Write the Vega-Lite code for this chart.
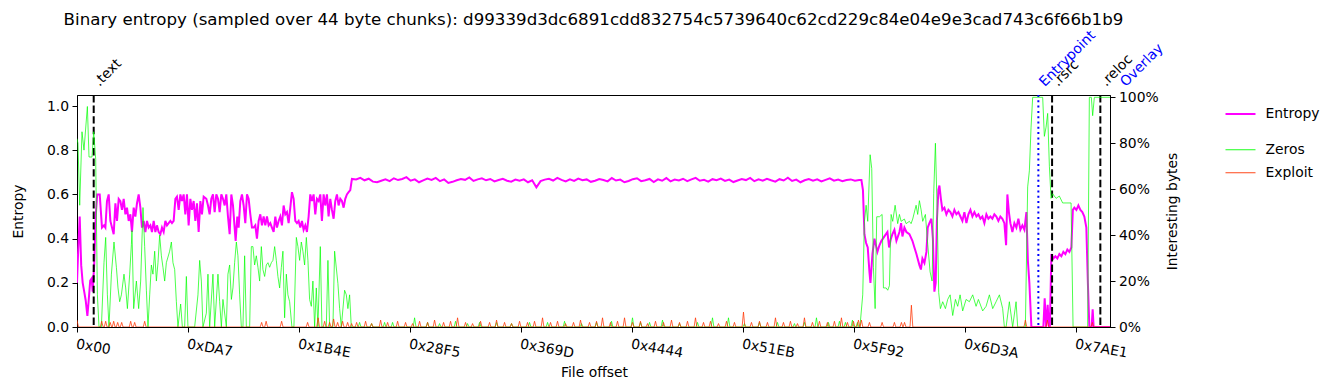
{
"$schema": "https://vega.github.io/schema/vega-lite/v6.json",
"width": 1033, "height": 232,
"autosize": {"type": "none"},
"padding": {"left": 77, "top": 95, "right": 225, "bottom": 63},
"background": "white",
"title": {"text": "Binary entropy (sampled over 44 byte chunks): d99339d3dc6891cdd832754c5739640c62cd229c84e04e9e3cad743c6f66b1b9", "frame": "group", "anchor": "middle", "fontSize": 16.67, "fontWeight": "normal", "font": "DejaVu Sans", "color": "black", "offset": -13, "baseline": "alphabetic"},
"config": {
  "font": "DejaVu Sans",
  "view": {"stroke": "black", "strokeWidth": 1},
  "axis": {"labelFont": "DejaVu Sans", "labelFontSize": 13.9, "labelColor": "black", "titleFont": "DejaVu Sans", "titleFontSize": 13.9, "titleFontWeight": "normal", "titleColor": "black", "domainColor": "black", "tickColor": "black", "grid": false, "tickSize": 5, "domainWidth": 1, "tickWidth": 1},
  "legend": {"labelFont": "DejaVu Sans", "labelFontSize": 13.9, "labelColor": "black"}
},
"datasets": {
"marks": [{"x":526,"name":".text","kind":"section"},{"x":30274,"name":"Entrypoint","kind":"special"},{"x":30706,"name":".rsrc","kind":"section"},{"x":32226,"name":".reloc","kind":"section"},{"x":32818,"name":"Overlay","kind":"special"}],
"ent": [
{"x":0,"v":0.2},{"x":38,"v":0.35},{"x":85,"v":0.5},{"x":132,"v":0.28},{"x":179,"v":0.2},{"x":227,"v":0.16},{"x":274,"v":0.12},{"x":327,"v":0.05},{"x":368,"v":0.12},{"x":416,"v":0.21},{"x":463,"v":0.22},{"x":494,"v":0.16},{"x":541,"v":0.28},{"x":589,"v":0.5},{"x":636,"v":0.6},{"x":661,"v":0.6},{"x":715,"v":0.6},{"x":787,"v":0.45},{"x":850,"v":0.46},{"x":894,"v":0.45},{"x":944,"v":0.57},{"x":998,"v":0.6},{"x":1051,"v":0.48},{"x":1102,"v":0.45},{"x":1155,"v":0.42},{"x":1209,"v":0.56},{"x":1259,"v":0.48},{"x":1313,"v":0.58},{"x":1366,"v":0.57},{"x":1417,"v":0.53},{"x":1470,"v":0.58},{"x":1524,"v":0.51},{"x":1574,"v":0.54},{"x":1628,"v":0.48},{"x":1681,"v":0.51},{"x":1731,"v":0.43},{"x":1785,"v":0.54},{"x":1838,"v":0.5},{"x":1889,"v":0.56},{"x":1942,"v":0.6},{"x":1996,"v":0.54},{"x":2046,"v":0.45},{"x":2100,"v":0.48},{"x":2153,"v":0.43},{"x":2204,"v":0.48},{"x":2257,"v":0.45},{"x":2311,"v":0.46},{"x":2361,"v":0.43},{"x":2415,"v":0.48},{"x":2468,"v":0.43},{"x":2518,"v":0.46},{"x":2572,"v":0.43},{"x":2625,"v":0.42},{"x":2676,"v":0.45},{"x":2729,"v":0.43},{"x":2783,"v":0.48},{"x":2833,"v":0.46},{"x":2887,"v":0.47},{"x":2940,"v":0.48},{"x":2991,"v":0.47},{"x":3044,"v":0.48},{"x":3098,"v":0.58},{"x":3148,"v":0.59},{"x":3202,"v":0.53},{"x":3255,"v":0.6},{"x":3305,"v":0.57},{"x":3359,"v":0.6},{"x":3412,"v":0.51},{"x":3463,"v":0.6},{"x":3516,"v":0.46},{"x":3570,"v":0.58},{"x":3620,"v":0.53},{"x":3674,"v":0.57},{"x":3727,"v":0.48},{"x":3778,"v":0.56},{"x":3831,"v":0.43},{"x":3885,"v":0.57},{"x":3935,"v":0.51},{"x":3989,"v":0.59},
{"x":4073,"v":0.58},{"x":4125,"v":0.55},{"x":4177,"v":0.51},{"x":4230,"v":0.58},{"x":4282,"v":0.6},{"x":4335,"v":0.52},{"x":4387,"v":0.6},{"x":4440,"v":0.58},{"x":4492,"v":0.52},{"x":4545,"v":0.6},{"x":4597,"v":0.58},{"x":4650,"v":0.55},{"x":4702,"v":0.6},{"x":4754,"v":0.5},{"x":4807,"v":0.42},{"x":4860,"v":0.6},{"x":4912,"v":0.55},{"x":4964,"v":0.45},{"x":4996,"v":0.39},{"x":5048,"v":0.5},{"x":5090,"v":0.45},{"x":5143,"v":0.57},{"x":5195,"v":0.6},{"x":5248,"v":0.55},{"x":5300,"v":0.47},{"x":5353,"v":0.6},{"x":5405,"v":0.58},{"x":5458,"v":0.51},{"x":5510,"v":0.45},{"x":5562,"v":0.45},{"x":5615,"v":0.46},{"x":5667,"v":0.4},{"x":5720,"v":0.48},{"x":5772,"v":0.51},{"x":5825,"v":0.46},{"x":5877,"v":0.5},{"x":5930,"v":0.46},{"x":5982,"v":0.5},{"x":6035,"v":0.46},{"x":6087,"v":0.47},{"x":6139,"v":0.45},{"x":6192,"v":0.43},{"x":6245,"v":0.5},{"x":6297,"v":0.45},{"x":6350,"v":0.48},{"x":6402,"v":0.5},{"x":6454,"v":0.46},{"x":6507,"v":0.55},{"x":6559,"v":0.51},{"x":6612,"v":0.52},{"x":6664,"v":0.47},{"x":6717,"v":0.54},{"x":6769,"v":0.61},{"x":6822,"v":0.58},{"x":6874,"v":0.48},{"x":6927,"v":0.47},{"x":6979,"v":0.48},{"x":7032,"v":0.45},{"x":7084,"v":0.48},{"x":7136,"v":0.44},{"x":7189,"v":0.46},{"x":7241,"v":0.43},{"x":7294,"v":0.5},{"x":7346,"v":0.6},{"x":7399,"v":0.57},{"x":7451,"v":0.6},{"x":7504,"v":0.51},{"x":7556,"v":0.58},{"x":7609,"v":0.57},{"x":7661,"v":0.6},{"x":7713,"v":0.48},{"x":7766,"v":0.6},{"x":7818,"v":0.55},{"x":7871,"v":0.6},{"x":7923,"v":0.5},{"x":7976,"v":0.58},{"x":8028,"v":0.53},{"x":8081,"v":0.49},{"x":8133,"v":0.57},{"x":8186,"v":0.6},{"x":8238,"v":0.55},{"x":8291,"v":0.58},{"x":8343,"v":0.57},{"x":8396,"v":0.54},{"x":8448,"v":0.58},{"x":8500,"v":0.6},{"x":8553,"v":0.61},{"x":8606,"v":0.62},{"x":8658,"v":0.67},
{"x":8790,"v":0.668},{"x":8922,"v":0.675},{"x":9054,"v":0.664},{"x":9186,"v":0.671},{"x":9318,"v":0.658},{"x":9450,"v":0.655},{"x":9582,"v":0.662},{"x":9714,"v":0.668},{"x":9846,"v":0.66},{"x":9978,"v":0.673},
{"x":10110,"v":0.665},{"x":10242,"v":0.67},{"x":10374,"v":0.678},{"x":10506,"v":0.662},{"x":10638,"v":0.668},{"x":10770,"v":0.655},{"x":10902,"v":0.664},{"x":11034,"v":0.672},{"x":11166,"v":0.666},{"x":11298,"v":0.675},
{"x":11430,"v":0.66},{"x":11562,"v":0.668},{"x":11694,"v":0.652},{"x":11826,"v":0.657},{"x":11958,"v":0.664},{"x":12090,"v":0.67},{"x":12222,"v":0.666},{"x":12354,"v":0.677},{"x":12486,"v":0.661},{"x":12618,"v":0.668},
{"x":12750,"v":0.673},{"x":12882,"v":0.664},{"x":13014,"v":0.67},{"x":13146,"v":0.659},{"x":13278,"v":0.665},{"x":13410,"v":0.671},{"x":13542,"v":0.662},{"x":13674,"v":0.658},{"x":13806,"v":0.667},{"x":13938,"v":0.662},
{"x":14070,"v":0.668},{"x":14202,"v":0.655},{"x":14334,"v":0.664},{"x":14466,"v":0.632},{"x":14598,"v":0.66},{"x":14730,"v":0.667},{"x":14862,"v":0.671},{"x":14994,"v":0.663},{"x":15126,"v":0.675},{"x":15258,"v":0.666},
{"x":15390,"v":0.659},{"x":15522,"v":0.668},{"x":15654,"v":0.661},{"x":15786,"v":0.672},{"x":15918,"v":0.664},{"x":16050,"v":0.668},{"x":16182,"v":0.657},{"x":16314,"v":0.662},{"x":16446,"v":0.67},{"x":16578,"v":0.665},
{"x":16710,"v":0.659},{"x":16842,"v":0.674},{"x":16974,"v":0.663},{"x":17106,"v":0.667},{"x":17238,"v":0.655},{"x":17370,"v":0.661},{"x":17502,"v":0.669},{"x":17634,"v":0.673},{"x":17766,"v":0.66},{"x":17898,"v":0.664},
{"x":18030,"v":0.67},{"x":18162,"v":0.656},{"x":18294,"v":0.668},{"x":18426,"v":0.662},{"x":18558,"v":0.674},{"x":18690,"v":0.659},{"x":18822,"v":0.667},{"x":18954,"v":0.663},{"x":19086,"v":0.671},{"x":19218,"v":0.66},
{"x":19350,"v":0.668},{"x":19482,"v":0.675},{"x":19614,"v":0.662},{"x":19746,"v":0.666},{"x":19878,"v":0.658},{"x":20010,"v":0.669},{"x":20142,"v":0.664},{"x":20274,"v":0.672},{"x":20406,"v":0.661},{"x":20538,"v":0.667},
{"x":20670,"v":0.656},{"x":20802,"v":0.663},{"x":20934,"v":0.67},{"x":21066,"v":0.665},{"x":21198,"v":0.675},{"x":21330,"v":0.66},{"x":21462,"v":0.668},{"x":21594,"v":0.662},{"x":21726,"v":0.671},{"x":21858,"v":0.664},
{"x":21990,"v":0.658},{"x":22122,"v":0.669},{"x":22254,"v":0.663},{"x":22386,"v":0.676},{"x":22518,"v":0.661},{"x":22650,"v":0.667},{"x":22782,"v":0.655},{"x":22914,"v":0.664},{"x":23046,"v":0.67},{"x":23178,"v":0.662},
{"x":23310,"v":0.668},{"x":23442,"v":0.659},{"x":23574,"v":0.666},{"x":23706,"v":0.673},{"x":23838,"v":0.662},{"x":23970,"v":0.667},{"x":24102,"v":0.66},{"x":24234,"v":0.665},{"x":24366,"v":0.668},{"x":24498,"v":0.662},
{"x":24630,"v":0.665},
{"x":24702,"v":0.665},{"x":24750,"v":0.62},{"x":24797,"v":0.42},{"x":24850,"v":0.38},{"x":24901,"v":0.36},{"x":24954,"v":0.25},{"x":24986,"v":0.2},{"x":25049,"v":0.33},{"x":25112,"v":0.4},{"x":25206,"v":0.34},{"x":25269,"v":0.37},{"x":25332,"v":0.39},{"x":25426,"v":0.41},{"x":25521,"v":0.43},{"x":25574,"v":0.36},{"x":25631,"v":0.4},{"x":25678,"v":0.42},{"x":25741,"v":0.44},{"x":25804,"v":0.39},{"x":25899,"v":0.43},{"x":25952,"v":0.47},{"x":25993,"v":0.41},{"x":26056,"v":0.45},{"x":26119,"v":0.43},{"x":26213,"v":0.42},{"x":26308,"v":0.39},{"x":26371,"v":0.36},{"x":26434,"v":0.33},{"x":26528,"v":0.28},{"x":26575,"v":0.26},{"x":26623,"v":0.31},{"x":26686,"v":0.29},{"x":26749,"v":0.34},{"x":26790,"v":0.45},{"x":26843,"v":0.47},{"x":26906,"v":0.49},{"x":26953,"v":0.4},{"x":27000,"v":0.16},{"x":27041,"v":0.2},{"x":27079,"v":0.48},{"x":27126,"v":0.62},{"x":27158,"v":0.64},{"x":27205,"v":0.58},{"x":27252,"v":0.53},{"x":27315,"v":0.54},{"x":27378,"v":0.51},{"x":27441,"v":0.53},{"x":27504,"v":0.52},{"x":27567,"v":0.5},{"x":27630,"v":0.53},{"x":27693,"v":0.51},{"x":27756,"v":0.52},{"x":27819,"v":0.5},{"x":27882,"v":0.48},{"x":27945,"v":0.52},{"x":28008,"v":0.47},{"x":28071,"v":0.51},{"x":28134,"v":0.53},{"x":28197,"v":0.5},{"x":28260,"v":0.52},{"x":28323,"v":0.5},{"x":28386,"v":0.51},{"x":28449,"v":0.49},{"x":28511,"v":0.5},{"x":28574,"v":0.47},{"x":28637,"v":0.51},{"x":28700,"v":0.49},{"x":28763,"v":0.5},{"x":28826,"v":0.49},{"x":28889,"v":0.51},{"x":28952,"v":0.5},{"x":29015,"v":0.48},{"x":29078,"v":0.5},{"x":29141,"v":0.49},{"x":29204,"v":0.47},{"x":29258,"v":0.37},{"x":29298,"v":0.6},{"x":29346,"v":0.52},{"x":29393,"v":0.47},{"x":29456,"v":0.43},{"x":29519,"v":0.47},{"x":29582,"v":0.45},{"x":29645,"v":0.49},{"x":29708,"v":0.44},{"x":29771,"v":0.46},{"x":29834,"v":0.44},{"x":29897,"v":0.52},{"x":29944,"v":0.3},{"x":29991,"v":0.2},{"x":30054,"v":0},{"x":30432,"v":0},{"x":30473,"v":0.13},{"x":30517,"v":0},{"x":30567,"v":0.1},{"x":30605,"v":0},{"x":30636,"v":0},{"x":30684,"v":0.33},{"x":30747,"v":0.31},{"x":30810,"v":0.32},{"x":30872,"v":0.31},{"x":30935,"v":0.33},{"x":30998,"v":0.32},{"x":31061,"v":0.34},{"x":31124,"v":0.33},{"x":31187,"v":0.35},{"x":31250,"v":0.34},{"x":31313,"v":0.36},{"x":31360,"v":0.53},{"x":31408,"v":0.54},{"x":31471,"v":0.53},{"x":31534,"v":0.55},{"x":31597,"v":0.53},{"x":31659,"v":0.52},{"x":31722,"v":0.5},{"x":31785,"v":0.45},{"x":31833,"v":0.2},{"x":31880,"v":0},{"x":31952,"v":0},{"x":31984,"v":0.08},{"x":32015,"v":0},{"x":32530,"v":0}
],
"zer": [
{"x":0,"v":0.82},{"x":31,"v":0.8},{"x":85,"v":0.53},{"x":157,"v":0.85},{"x":220,"v":0.77},{"x":327,"v":0.96},{"x":378,"v":0.74},{"x":472,"v":0.74},{"x":526,"v":0.85},{"x":589,"v":0.73},{"x":642,"v":0.14},{"x":693,"v":0},{"x":768,"v":0},{"x":850,"v":0.28},{"x":903,"v":0.39},{"x":957,"v":0.14},{"x":1007,"v":0},{"x":1083,"v":0.23},{"x":1165,"v":0.37},{"x":1240,"v":0.26},{"x":1291,"v":0.17},{"x":1344,"v":0.11},{"x":1398,"v":0.14},{"x":1480,"v":0.23},{"x":1533,"v":0.17},{"x":1587,"v":0.08},{"x":1659,"v":0.23},{"x":1713,"v":0.36},{"x":1731,"v":0.42},{"x":1785,"v":0.08},{"x":1870,"v":0.2},{"x":1942,"v":0.08},{"x":2005,"v":0.2},{"x":2078,"v":0.52},{"x":2131,"v":0.35},{"x":2185,"v":0.16},{"x":2235,"v":0},{"x":2289,"v":0.14},{"x":2342,"v":0.27},{"x":2392,"v":0.23},{"x":2446,"v":0.33},{"x":2500,"v":0.2},{"x":2550,"v":0.28},{"x":2603,"v":0.4},{"x":2657,"v":0.31},{"x":2707,"v":0.26},{"x":2761,"v":0.2},{"x":2814,"v":0.28},{"x":2918,"v":0.33},{"x":2972,"v":0.37},{"x":3022,"v":0.28},{"x":3076,"v":0.25},{"x":3129,"v":0.11},{"x":3179,"v":0},{"x":3264,"v":0.1},{"x":3318,"v":0},{"x":3390,"v":0},{"x":3444,"v":0.22},{"x":3494,"v":0},{"x":3705,"v":0},{"x":3809,"v":0.14},{"x":3863,"v":0.29},{"x":3916,"v":0.2},{"x":3966,"v":0},{"x":4073,"v":0.06},{"x":4124,"v":0.23},{"x":4177,"v":0},{"x":4281,"v":0.23},{"x":4335,"v":0},{"x":4439,"v":0.23},{"x":4492,"v":0.11},{"x":4546,"v":0},{"x":4596,"v":0.12},{"x":4703,"v":0},{"x":4753,"v":0.23},{"x":4807,"v":0.27},{"x":4861,"v":0.12},{"x":4911,"v":0.17},{"x":4964,"v":0.28},{"x":5018,"v":0.37},{"x":5068,"v":0.31},{"x":5122,"v":0.14},{"x":5175,"v":0},{"x":5226,"v":0},{"x":5279,"v":0.31},{"x":5333,"v":0},{"x":5437,"v":0},{"x":5490,"v":0.35},{"x":5540,"v":0.35},{"x":5594,"v":0.27},{"x":5647,"v":0.31},{"x":5698,"v":0.26},{"x":5751,"v":0.2},{"x":5805,"v":0.35},{"x":5855,"v":0.25},{"x":5909,"v":0.22},{"x":5962,"v":0.27},{"x":6013,"v":0.28},{"x":6066,"v":0.26},{"x":6120,"v":0.28},{"x":6170,"v":0.29},{"x":6224,"v":0.35},{"x":6277,"v":0.29},{"x":6327,"v":0.22},{"x":6381,"v":0.17},{"x":6435,"v":0.26},{"x":6485,"v":0.33},{"x":6538,"v":0.04},{"x":6592,"v":0.23},{"x":6642,"v":0.14},{"x":6696,"v":0.11},{"x":6768,"v":0},{"x":6831,"v":0},{"x":6907,"v":0.39},{"x":6957,"v":0.35},{"x":7011,"v":0.29},{"x":7064,"v":0.37},{"x":7114,"v":0.33},{"x":7168,"v":0.27},{"x":7222,"v":0.39},{"x":7272,"v":0.29},{"x":7325,"v":0.12},{"x":7379,"v":0.09},{"x":7429,"v":0.2},{"x":7483,"v":0},{"x":7536,"v":0.17},{"x":7587,"v":0},{"x":7662,"v":0.35},{"x":7713,"v":0},{"x":7851,"v":0},{"x":7902,"v":0.29},{"x":7955,"v":0},{"x":8059,"v":0},{"x":8112,"v":0.33},{"x":8216,"v":0.19},{"x":8270,"v":0.08},{"x":8323,"v":0},{"x":8427,"v":0.16},{"x":8481,"v":0.14},{"x":8531,"v":0.08},{"x":8585,"v":0.14},{"x":8638,"v":0},
{"x":8855,"v":0},{"x":8899,"v":0.02},{"x":8943,"v":0},{"x":9233,"v":0},{"x":9277,"v":0.015},{"x":9321,"v":0},{"x":9642,"v":0},{"x":9686,"v":0.02},{"x":9730,"v":0},{"x":9894,"v":0},{"x":9938,"v":0.02},{"x":9982,"v":0},{"x":10587,"v":0},{"x":10631,"v":0.04},{"x":10675,"v":0},{"x":10996,"v":0},{"x":11040,"v":0.02},{"x":11084,"v":0},{"x":11374,"v":0},{"x":11418,"v":0.015},{"x":11462,"v":0},{"x":11877,"v":0},{"x":11921,"v":0.025},{"x":11965,"v":0},{"x":12255,"v":0},{"x":12299,"v":0.015},{"x":12343,"v":0},{"x":12633,"v":0},{"x":12677,"v":0.02},{"x":12721,"v":0},{"x":13168,"v":0},{"x":13212,"v":0.02},{"x":13256,"v":0},{"x":13640,"v":0},{"x":13684,"v":0.015},{"x":13728,"v":0},{"x":14207,"v":0},{"x":14251,"v":0.02},{"x":14295,"v":0},{"x":14774,"v":0},{"x":14818,"v":0.02},{"x":14862,"v":0},{"x":15309,"v":0},{"x":15353,"v":0.025},{"x":15397,"v":0},{"x":15844,"v":0},{"x":15888,"v":0.015},{"x":15932,"v":0},{"x":16316,"v":0},{"x":16360,"v":0.02},{"x":16404,"v":0},{"x":16788,"v":0},{"x":16832,"v":0.025},{"x":16876,"v":0},{"x":17449,"v":0},{"x":17493,"v":0.04},{"x":17537,"v":0},{"x":17701,"v":0},{"x":17745,"v":0.02},{"x":17789,"v":0},{"x":17985,"v":0},{"x":18029,"v":0.02},{"x":18073,"v":0},{"x":18394,"v":0},{"x":18438,"v":0.03},{"x":18482,"v":0},{"x":18929,"v":0},{"x":18973,"v":0.015},{"x":19017,"v":0},{"x":19496,"v":0},{"x":19540,"v":0.02},{"x":19584,"v":0},{"x":19968,"v":0},{"x":20012,"v":0.04},{"x":20056,"v":0},{"x":20472,"v":0},{"x":20516,"v":0.04},{"x":20560,"v":0},{"x":20975,"v":0},{"x":21019,"v":0.015},{"x":21063,"v":0},{"x":21447,"v":0},{"x":21491,"v":0.02},{"x":21535,"v":0},{"x":22014,"v":0},{"x":22058,"v":0.02},{"x":22102,"v":0},{"x":22549,"v":0},{"x":22593,"v":0.015},{"x":22637,"v":0},{"x":22864,"v":0},{"x":22908,"v":0.02},{"x":22952,"v":0},{"x":23242,"v":0},{"x":23286,"v":0.04},{"x":23330,"v":0},{"x":23620,"v":0},{"x":23664,"v":0.02},{"x":23708,"v":0},{"x":23966,"v":0},{"x":24010,"v":0.025},{"x":24054,"v":0},{"x":24155,"v":0},{"x":24199,"v":0.02},{"x":24243,"v":0},{"x":24375,"v":0},{"x":24419,"v":0.03},{"x":24463,"v":0},{"x":24532,"v":0},{"x":24576,"v":0.02},{"x":24620,"v":0},
{"x":24655,"v":0},{"x":24743,"v":0.14},{"x":24797,"v":0.46},{"x":24850,"v":0.53},{"x":24901,"v":0.46},{"x":24976,"v":0.75},{"x":25027,"v":0.69},{"x":25080,"v":0.26},{"x":25134,"v":0.08},{"x":25184,"v":0.48},{"x":25269,"v":0.48},{"x":25354,"v":0.49},{"x":25395,"v":0.17},{"x":25480,"v":0.17},{"x":25530,"v":0.16},{"x":25584,"v":0.18},{"x":25637,"v":0.49},{"x":25688,"v":0.46},{"x":25763,"v":0.53},{"x":25845,"v":0.45},{"x":25899,"v":0.49},{"x":25952,"v":0.46},{"x":26056,"v":0.47},{"x":26110,"v":0.45},{"x":26213,"v":0.46},{"x":26266,"v":0.45},{"x":26317,"v":0.47},{"x":26424,"v":0.53},{"x":26474,"v":0.49},{"x":26528,"v":0.55},{"x":26582,"v":0.51},{"x":26632,"v":0.46},{"x":26717,"v":0.49},{"x":26790,"v":0.36},{"x":26865,"v":0.24},{"x":26928,"v":0.2},{"x":26978,"v":0.58},{"x":27032,"v":0.8},{"x":27085,"v":0.52},{"x":27136,"v":0.15},{"x":27189,"v":0.08},{"x":27262,"v":0.11},{"x":27347,"v":0.08},{"x":27419,"v":0.12},{"x":27495,"v":0.14},{"x":27577,"v":0.05},{"x":27662,"v":0.12},{"x":27734,"v":0.09},{"x":27809,"v":0.14},{"x":27891,"v":0.07},{"x":27998,"v":0.12},{"x":28102,"v":0.11},{"x":28206,"v":0.14},{"x":28313,"v":0.09},{"x":28386,"v":0.12},{"x":28521,"v":0.07},{"x":28628,"v":0.09},{"x":28732,"v":0.14},{"x":28836,"v":0.08},{"x":28943,"v":0.11},{"x":29047,"v":0.14},{"x":29150,"v":0.08},{"x":29204,"v":0},{"x":29258,"v":0},{"x":29361,"v":0.11},{"x":29465,"v":0},{"x":29572,"v":0.11},{"x":29623,"v":0},{"x":29865,"v":0},{"x":29937,"v":0.61},{"x":29991,"v":0.68},{"x":30044,"v":0.87},{"x":30095,"v":1},{"x":30410,"v":1},{"x":30463,"v":0.83},{"x":30517,"v":0.87},{"x":30567,"v":0.93},{"x":30621,"v":0.7},{"x":30674,"v":0.56},{"x":30724,"v":0.58},{"x":30832,"v":0.56},{"x":30935,"v":0.57},{"x":31039,"v":0.54},{"x":31146,"v":0.54},{"x":31304,"v":0.54},{"x":31367,"v":0},{"x":31826,"v":0},{"x":31880,"v":1},{"x":31943,"v":1},{"x":31984,"v":0.92},{"x":32037,"v":1},{"x":32530,"v":1}
],
"exp": [
{"x":0,"v":0.03},{"x":44,"v":0},
{"x":734,"v":0},{"x":778,"v":0.025},{"x":822,"v":0},{"x":859,"v":0},{"x":903,"v":0.025},{"x":947,"v":0},{"x":1001,"v":0},{"x":1045,"v":0.02},{"x":1089,"v":0},{"x":1111,"v":0},{"x":1155,"v":0.025},{"x":1199,"v":0},{"x":1237,"v":0},{"x":1281,"v":0.02},{"x":1325,"v":0},{"x":1363,"v":0},{"x":1407,"v":0.02},{"x":1451,"v":0},{"x":1646,"v":0},{"x":1690,"v":0.025},{"x":1734,"v":0},{"x":1772,"v":0},{"x":1816,"v":0.02},{"x":1860,"v":0},{"x":2087,"v":0},{"x":2131,"v":0.025},{"x":2175,"v":0},
{"x":5770,"v":0},{"x":5814,"v":0.02},{"x":5858,"v":0},{"x":5912,"v":0},{"x":5956,"v":0.025},{"x":6000,"v":0},{"x":6400,"v":0},{"x":6444,"v":0.025},{"x":6488,"v":0},{"x":7218,"v":0},{"x":7262,"v":0.02},{"x":7306,"v":0},{"x":7549,"v":0},{"x":7593,"v":0.04},{"x":7637,"v":0},{"x":7754,"v":0},{"x":7798,"v":0.025},{"x":7842,"v":0},{"x":7911,"v":0},{"x":7955,"v":0.02},{"x":7999,"v":0},{"x":8037,"v":0},{"x":8081,"v":0.035},{"x":8125,"v":0},{"x":8163,"v":0},{"x":8207,"v":0.02},{"x":8251,"v":0},{"x":8320,"v":0},{"x":8364,"v":0.025},{"x":8408,"v":0},{"x":8478,"v":0},{"x":8522,"v":0.02},{"x":8566,"v":0},{"x":8604,"v":0},{"x":8648,"v":0.015},{"x":8692,"v":0},
{"x":8761,"v":0},{"x":8805,"v":0.02},{"x":8849,"v":0},{"x":9044,"v":0},{"x":9088,"v":0.025},{"x":9132,"v":0},{"x":9233,"v":0},{"x":9277,"v":0.015},{"x":9321,"v":0},{"x":9517,"v":0},{"x":9561,"v":0.03},{"x":9605,"v":0},{"x":9737,"v":0},{"x":9781,"v":0.02},{"x":9825,"v":0},{"x":10052,"v":0},{"x":10096,"v":0.025},{"x":10140,"v":0},{"x":10303,"v":0},{"x":10347,"v":0.02},{"x":10391,"v":0},{"x":10524,"v":0},{"x":10568,"v":0.015},{"x":10612,"v":0},{"x":10744,"v":0},{"x":10788,"v":0.025},{"x":10832,"v":0},{"x":10996,"v":0},{"x":11040,"v":0.02},{"x":11084,"v":0},{"x":11216,"v":0},{"x":11260,"v":0.03},{"x":11304,"v":0},{"x":11500,"v":0},{"x":11544,"v":0.02},{"x":11588,"v":0},{"x":11720,"v":0},{"x":11764,"v":0.025},{"x":11808,"v":0},{"x":11940,"v":0},{"x":11984,"v":0.04},{"x":12028,"v":0},{"x":12192,"v":0},{"x":12236,"v":0.02},{"x":12280,"v":0},{"x":12413,"v":0},{"x":12457,"v":0.015},{"x":12501,"v":0},{"x":12665,"v":0},{"x":12709,"v":0.025},{"x":12753,"v":0},{"x":12948,"v":0},{"x":12992,"v":0.02},{"x":13036,"v":0},{"x":13168,"v":0},{"x":13212,"v":0.03},{"x":13256,"v":0},{"x":13420,"v":0},{"x":13464,"v":0.02},{"x":13508,"v":0},{"x":13640,"v":0},{"x":13684,"v":0.015},{"x":13728,"v":0},{"x":13892,"v":0},{"x":13936,"v":0.025},{"x":13980,"v":0},{"x":14144,"v":0},{"x":14188,"v":0.02},{"x":14232,"v":0},{"x":14364,"v":0},{"x":14408,"v":0.025},{"x":14452,"v":0},{"x":14616,"v":0},{"x":14660,"v":0.04},{"x":14704,"v":0},{"x":14868,"v":0},{"x":14912,"v":0.02},{"x":14956,"v":0},{"x":15088,"v":0},{"x":15132,"v":0.025},{"x":15176,"v":0},{"x":15340,"v":0},{"x":15384,"v":0.015},{"x":15428,"v":0},{"x":15592,"v":0},{"x":15636,"v":0.02},{"x":15680,"v":0},{"x":15812,"v":0},{"x":15856,"v":0.03},{"x":15900,"v":0},{"x":16096,"v":0},{"x":16140,"v":0.02},{"x":16184,"v":0},{"x":16316,"v":0},{"x":16360,"v":0.025},{"x":16404,"v":0},{"x":16505,"v":0},{"x":16549,"v":0.04},{"x":16593,"v":0},{"x":16757,"v":0},{"x":16801,"v":0.02},{"x":16845,"v":0},{"x":16977,"v":0},{"x":17021,"v":0.025},{"x":17065,"v":0},{"x":17198,"v":0},{"x":17242,"v":0.04},{"x":17286,"v":0},{"x":17449,"v":0},{"x":17493,"v":0.02},{"x":17537,"v":0},{"x":17701,"v":0},{"x":17745,"v":0.025},{"x":17789,"v":0},{"x":17922,"v":0},{"x":17966,"v":0.015},{"x":18010,"v":0},{"x":18173,"v":0},{"x":18217,"v":0.025},{"x":18261,"v":0},{"x":18425,"v":0},{"x":18469,"v":0.02},{"x":18513,"v":0},{"x":18677,"v":0},{"x":18721,"v":0.03},{"x":18765,"v":0},{"x":18929,"v":0},{"x":18973,"v":0.02},{"x":19017,"v":0},{"x":19181,"v":0},{"x":19225,"v":0.025},{"x":19269,"v":0},{"x":19433,"v":0},{"x":19477,"v":0.04},{"x":19521,"v":0},{"x":19685,"v":0},{"x":19729,"v":0.02},{"x":19773,"v":0},{"x":19905,"v":0},{"x":19949,"v":0.025},{"x":19993,"v":0},{"x":20157,"v":0},{"x":20201,"v":0.015},{"x":20245,"v":0},{"x":20409,"v":0},{"x":20453,"v":0.025},{"x":20497,"v":0},{"x":20660,"v":0},{"x":20704,"v":0.02},{"x":20748,"v":0},{"x":20944,"v":0},{"x":20988,"v":0.065},{"x":21032,"v":0},{"x":21196,"v":0},{"x":21240,"v":0.02},{"x":21284,"v":0},{"x":21447,"v":0},{"x":21491,"v":0.025},{"x":21535,"v":0},{"x":21699,"v":0},{"x":21743,"v":0.02},{"x":21787,"v":0},{"x":21951,"v":0},{"x":21995,"v":0.04},{"x":22039,"v":0},{"x":22203,"v":0},{"x":22247,"v":0.02},{"x":22291,"v":0},{"x":22423,"v":0},{"x":22467,"v":0.025},{"x":22511,"v":0},{"x":22644,"v":0},{"x":22688,"v":0.015},{"x":22732,"v":0},{"x":22864,"v":0},{"x":22908,"v":0.04},{"x":22952,"v":0},{"x":23116,"v":0},{"x":23160,"v":0.02},{"x":23204,"v":0},{"x":23336,"v":0},{"x":23380,"v":0.025},{"x":23424,"v":0},{"x":23588,"v":0},{"x":23632,"v":0.02},{"x":23676,"v":0},{"x":23808,"v":0},{"x":23852,"v":0.025},{"x":23896,"v":0},{"x":24029,"v":0},{"x":24073,"v":0.04},{"x":24117,"v":0},{"x":24218,"v":0},{"x":24262,"v":0.02},{"x":24306,"v":0},{"x":24407,"v":0},{"x":24451,"v":0.025},{"x":24495,"v":0},{"x":24564,"v":0},{"x":24608,"v":0.03},{"x":24652,"v":0},{"x":24658,"v":0},{"x":24702,"v":0.03},{"x":24746,"v":0},{"x":24910,"v":0},{"x":24954,"v":0.02},{"x":24998,"v":0},{"x":25310,"v":0},{"x":25354,"v":0.02},{"x":25398,"v":0},{"x":25697,"v":0},{"x":25741,"v":0.02},{"x":25785,"v":0},{"x":25918,"v":0},{"x":25962,"v":0.02},{"x":26006,"v":0},{"x":26016,"v":0},{"x":26060,"v":0.02},{"x":26104,"v":0},{"x":26232,"v":0},{"x":26276,"v":0.095},{"x":26320,"v":0},{"x":29821,"v":0},{"x":29865,"v":0.03},{"x":29909,"v":0},{"x":30514,"v":0},{"x":30558,"v":0.03},{"x":30602,"v":0},{"x":31930,"v":0},{"x":31974,"v":0.02},{"x":32018,"v":0},{"x":32530,"v":0}
]
},
"layer": [
 {"layer": [
  {"data": {"name": "ent"},
   "mark": {"type": "line", "strokeWidth": 2, "clip": true},
   "encoding": {
    "x": {"field": "x", "type": "quantitative", "title": "File offset",
      "scale": {"domain": [0, 32530], "nice": false, "zero": false},
      "axis": {"values": [0, 3495.25, 6990.5, 10485.75, 13981, 17476.25, 20971.5, 24466.75, 27962, 31457.25], "labelExpr": "datum.value == 0 ? '0x00' : format(floor(datum.value), '#X')", "labelAngle": 10, "labelAlign": "left", "labelBaseline": "top", "labelPadding": 5, "labelFlush": false, "labelOverlap": false, "titleX": 517, "titleY": 45, "titleAlign": "center", "titleBaseline": "middle"}},
    "y": {"field": "v", "type": "quantitative", "title": "Entropy",
      "scale": {"domain": [0, 1.05], "nice": false},
      "axis": {"values": [0, 0.2, 0.4, 0.6, 0.8, 1.0], "format": ".1f", "labelPadding": 3.5, "titleX": -59, "titleY": 116, "titleAngle": 270, "titleAlign": "center", "titleBaseline": "middle"}},
    "color": {"datum": "Entropy", "type": "nominal",
      "scale": {"domain": ["Entropy"], "range": ["#ff00ff"]},
      "legend": {"orient": "none", "legendX": 1147.5, "legendY": 3, "title": null, "symbolType": "stroke", "symbolSize": 900, "symbolStrokeWidth": 2, "labelOffset": 9, "padding": 0}}
   }},
  {"data": {"name": "marks"},
   "transform": [{"filter": "datum.kind == 'section'"}],
   "mark": {"type": "rule", "color": "black", "strokeWidth": 2, "strokeDash": [7.4, 3.2], "clip": true},
   "encoding": {"x": {"field": "x", "type": "quantitative", "title": "File offset"}}},
  {"data": {"name": "marks"},
   "transform": [{"filter": "datum.kind == 'special'"}],
   "mark": {"type": "rule", "color": "#0000ff", "strokeWidth": 2, "strokeDash": [2, 3.3], "clip": true},
   "encoding": {"x": {"field": "x", "type": "quantitative", "title": "File offset"}}},
  {"data": {"name": "marks"},
   "transform": [{"filter": "datum.kind == 'section'"}],
   "mark": {"type": "text", "angle": 315, "align": "left", "baseline": "alphabetic", "fontSize": 13.9, "font": "DejaVu Sans", "color": "black", "dx": 9.8, "dy": -1.6},
   "encoding": {"x": {"field": "x", "type": "quantitative", "title": "File offset"}, "y": {"datum": 1.05, "type": "quantitative", "title": "Entropy"}, "text": {"field": "name"}}},
  {"data": {"name": "marks"},
   "transform": [{"filter": "datum.kind == 'special'"}],
   "mark": {"type": "text", "angle": 315, "align": "left", "baseline": "alphabetic", "fontSize": 13.9, "font": "DejaVu Sans", "color": "#0000ff", "dx": 10, "dy": -0.8},
   "encoding": {"x": {"field": "x", "type": "quantitative", "title": "File offset"}, "y": {"datum": 1.05, "type": "quantitative", "title": "Entropy"}, "text": {"field": "name"}}}
 ]},
 {"layer": [
  {"data": {"name": "zer"},
   "mark": {"type": "line", "strokeWidth": 1, "opacity": 0.7, "clip": true},
   "encoding": {
    "x": {"field": "x", "type": "quantitative", "title": "File offset"},
    "y": {"field": "v", "type": "quantitative", "title": "Interesting bytes",
      "scale": {"domain": [0, 1.01], "nice": false},
      "axis": {"orient": "right", "values": [0, 0.2, 0.4, 0.6, 0.8, 1.0], "format": ".0%", "labelPadding": 3.5, "titleX": 62.5, "titleY": 116, "titleAngle": 270, "titleAlign": "center", "titleBaseline": "middle"}},
    "color": {"datum": "Zeros", "type": "nominal",
      "scale": {"domain": ["Zeros", "Exploit"], "range": ["#00ff00", "#ff3300"]},
      "legend": {"orient": "none", "legendX": 1147.5, "legendY": 38.7, "title": null, "symbolType": "stroke", "symbolSize": 900, "symbolStrokeWidth": 1.2, "symbolOpacity": 0.75, "labelOffset": 9, "padding": 0, "rowPadding": -9.4}}
   }},
  {"data": {"name": "exp"},
   "mark": {"type": "line", "strokeWidth": 1, "opacity": 0.75, "clip": true},
   "encoding": {
    "x": {"field": "x", "type": "quantitative", "title": "File offset"},
    "y": {"field": "v", "type": "quantitative", "title": "Interesting bytes"},
    "color": {"datum": "Exploit", "type": "nominal",
      "legend": {"orient": "none", "legendX": 1147.5, "legendY": 38.7, "title": null, "symbolType": "stroke", "symbolSize": 900, "symbolStrokeWidth": 1.2, "symbolOpacity": 0.75, "labelOffset": 9, "padding": 0, "rowPadding": -9.4}}
   }}
 ]}
],
"resolve": {"scale": {"y": "independent", "color": "independent"}}
}
